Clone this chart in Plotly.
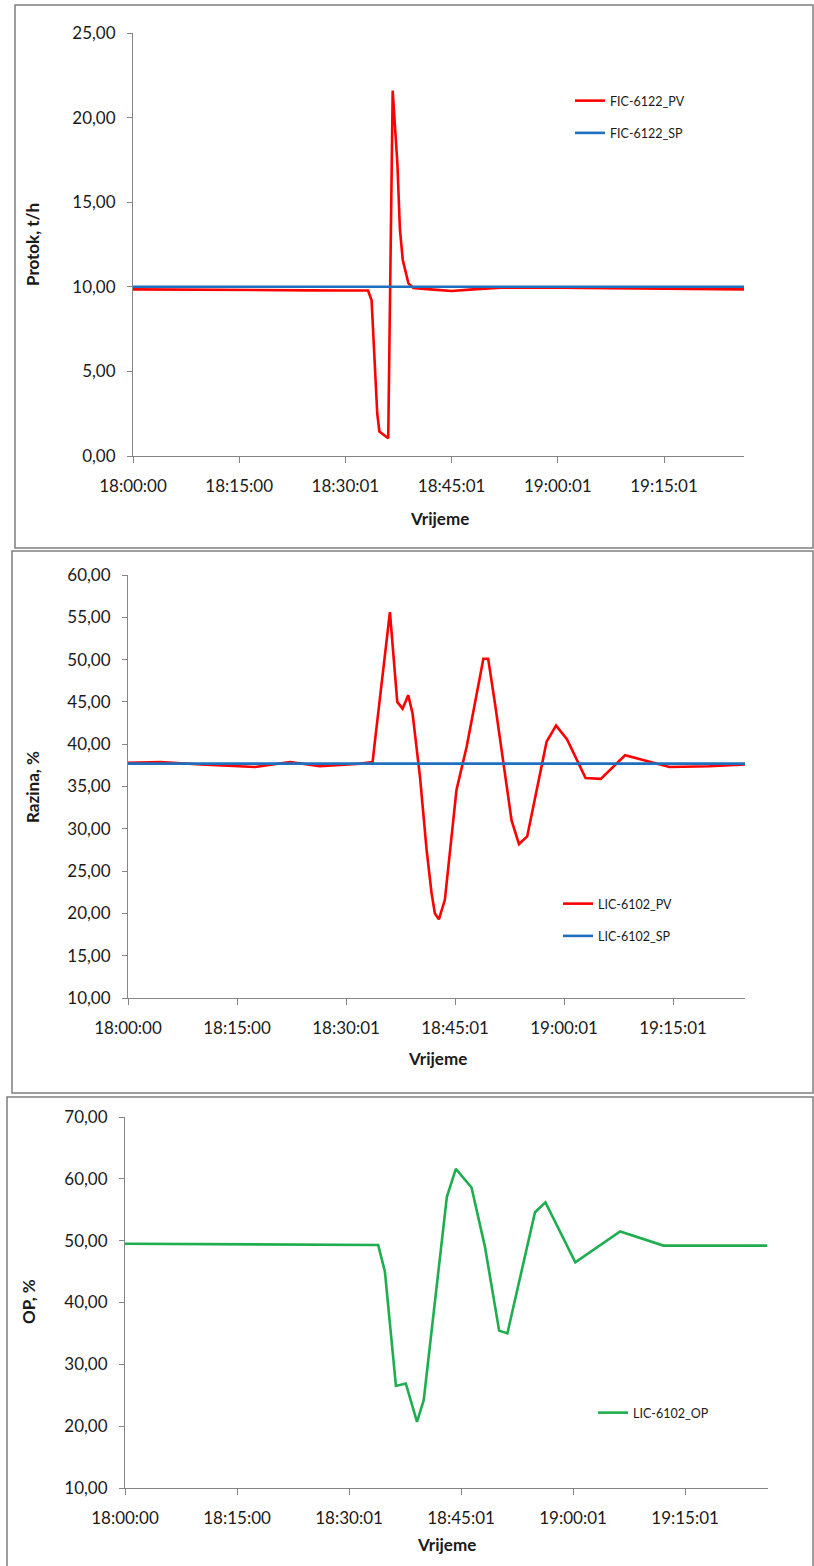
import plotly.graph_objects as go

W, H = 814, 1566

# ---------------- data ----------------
tick_vals = [0, 15, 30, 45, 60, 75]
tick_text = ["18:00:00", "18:15:00", "18:30:01", "18:45:01", "19:00:01", "19:15:01"]

fic_pv_t = [0, 5, 10, 15, 20, 25, 30, 33.2, 33.7, 34.2, 34.5, 34.8, 36.05, 36.68, 37.34,
            37.7, 38.1, 38.9, 39.6, 42, 45, 48, 52, 60, 70, 80, 86.3]
fic_pv_v = [9.85, 9.83, 9.82, 9.8, 9.8, 9.79, 9.78, 9.78, 9.2, 5.5, 2.5, 1.45, 1.05, 21.6, 17.3,
            13.4, 11.6, 10.2, 9.93, 9.85, 9.75, 9.85, 9.95, 9.95, 9.9, 9.85, 9.85]
fic_sp_t = [0, 86.3]
fic_sp_v = [10.0, 10.0]

lic_pv_t = [0, 4.5, 10, 17.5, 22.3, 26.4, 32, 33.66, 34.0, 36.04, 37.05, 37.78, 38.56, 39.16,
            40.17, 41.09, 41.77, 42.23, 42.78, 43.6, 45.2, 46.6, 48.9, 49.56, 50.5, 52.78, 53.8,
            54.93, 57.6, 58.9, 60.4, 62.96, 65.06, 68.4, 74.5, 80, 84.9]
lic_pv_v = [37.8, 37.9, 37.6, 37.3, 37.9, 37.4, 37.7, 37.9, 40.5, 55.6, 45.0, 44.2, 45.8, 43.6,
            36.2, 27.5, 22.4, 20.0, 19.3, 21.6, 34.6, 39.7, 50.1, 50.1, 44.8, 31.0, 28.2,
            29.1, 40.3, 42.2, 40.6, 36.0, 35.9, 38.7, 37.3, 37.4, 37.6]
lic_sp_t = [0, 84.9]
lic_sp_v = [37.7, 37.7]

lic_op_t = [0, 10, 20, 30, 33.9, 34.8, 36.28, 37.6, 39.1, 40.0, 43.1, 44.3, 46.4, 48.2, 50.1,
            51.2, 54.9, 56.3, 60.3, 66.3, 72.1, 79.2, 86.0]
lic_op_v = [49.5, 49.45, 49.4, 49.35, 49.3, 45.0, 26.5, 26.9, 20.7, 24.2, 57.1, 61.6, 58.6, 49.0,
            35.45, 35.0, 54.6, 56.2, 46.5, 51.5, 49.2, 49.2, 49.2]

# ---------------- helpers (screen px -> paper) ----------------
def px(x):
    return x / W

def py(y):
    return 1 - y / H

FONT = "Lato"
TXT = "#1a1a1a"
AX = "#868686"
RED = "#ff0000"
BLUE = "#1f6fbf"
GREEN = "#1fae4f"

fig = go.Figure()

fig.add_trace(go.Scatter(x=fic_pv_t, y=fic_pv_v, mode="lines", name="FIC-6122_PV",
                         line=dict(color=RED, width=2.6), xaxis="x", yaxis="y",
                         legend="legend", legendgroup="a"))
fig.add_trace(go.Scatter(x=fic_sp_t, y=fic_sp_v, mode="lines", name="FIC-6122_SP",
                         line=dict(color=BLUE, width=2.6), xaxis="x", yaxis="y",
                         legend="legend", legendgroup="b"))
fig.add_trace(go.Scatter(x=lic_pv_t, y=lic_pv_v, mode="lines", name="LIC-6102_PV",
                         line=dict(color=RED, width=2.6), xaxis="x2", yaxis="y2",
                         legend="legend2", legendgroup="c"))
fig.add_trace(go.Scatter(x=lic_sp_t, y=lic_sp_v, mode="lines", name="LIC-6102_SP",
                         line=dict(color=BLUE, width=2.6), xaxis="x2", yaxis="y2",
                         legend="legend2", legendgroup="d"))
fig.add_trace(go.Scatter(x=lic_op_t, y=lic_op_v, mode="lines", name="LIC-6102_OP",
                         line=dict(color=GREEN, width=2.6), xaxis="x3", yaxis="y3",
                         legend="legend3", legendgroup="e"))

def xaxis(x0, x1, rng, anchor):
    return dict(domain=[px(x0), px(x1)], range=rng, anchor=anchor, automargin=False,
                tickmode="array", tickvals=tick_vals, ticktext=tick_text,
                showline=True, linecolor=AX, linewidth=1, ticks="outside", ticklen=6,
                tickcolor=AX, showgrid=False, zeroline=False, ticklabelstandoff=9,
                tickfont=dict(family=FONT, size=17, color=TXT))

def yaxis(y_top, y_bot, rng, dtick, anchor):
    return dict(domain=[py(y_bot), py(y_top)], range=rng, anchor=anchor, automargin=False,
                dtick=dtick, tick0=0, tickformat=".2f",
                showline=True, linecolor=AX, linewidth=1, ticks="outside", ticklen=5,
                tickcolor=AX, showgrid=False, zeroline=False, ticklabelstandoff=8,
                tickfont=dict(family=FONT, size=17, color=TXT))

legend_common = dict(font=dict(family=FONT, size=12.5, color=TXT), bgcolor="rgba(0,0,0,0)",
                     xanchor="left", yanchor="top", itemwidth=30, traceorder="grouped",
                     tracegroupgap=13, borderwidth=0)

fig.update_layout(
    template="none",
    width=W, height=H, autosize=False,
    margin=dict(l=0, r=0, t=0, b=0, pad=0),
    paper_bgcolor="white", plot_bgcolor="white",
    separators=", ",
    font=dict(family=FONT, color=TXT),
    xaxis=xaxis(133, 744, [0, 86.3], "y"),
    yaxis=yaxis(33, 456, [0, 25], 5, "x"),
    xaxis2=xaxis(128, 745, [0, 84.9], "y2"),
    yaxis2=yaxis(575, 998, [10, 60], 5, "x2"),
    xaxis3=xaxis(125, 768, [0, 86.1], "y3"),
    yaxis3=yaxis(1117, 1488, [10, 70], 10, "x3"),
    legend=dict(x=px(570), y=py(86), **legend_common),
    legend2=dict(x=px(558), y=py(889), **legend_common),
    legend3=dict(x=px(593), y=py(1398), **legend_common),
)

frames = [(15, 5, 813, 548), (12, 551, 813, 1093), (7, 1097, 813, 1575)]
for x0, y0, x1, y1 in frames:
    fig.add_shape(type="rect", xref="paper", yref="paper",
                  x0=px(x0), x1=px(x1), y0=py(y0), y1=py(y1),
                  line=dict(color="#7f7f7f", width=1.5), fillcolor="rgba(0,0,0,0)", layer="below")

titles = [
    ("Protok, t/h", 32, 245, -90),
    ("Razina, %", 32, 787, -90),
    ("OP, %", 28, 1302, -90),
    ("Vrijeme", 439, 518, 0),
    ("Vrijeme", 437, 1058, 0),
    ("Vrijeme", 446, 1544, 0),
]
for text, x, y, ang in titles:
    fig.add_annotation(text="<b>%s</b>" % text, xref="paper", yref="paper",
                       x=px(x), y=py(y), xanchor="center", yanchor="middle",
                       textangle=ang, showarrow=False,
                       font=dict(family=FONT, size=17, color=TXT))

fig.write_html("out.html", config={"displayModeBar": False},
               post_script="document.body.style.margin='0';document.body.style.overflow='hidden';")
